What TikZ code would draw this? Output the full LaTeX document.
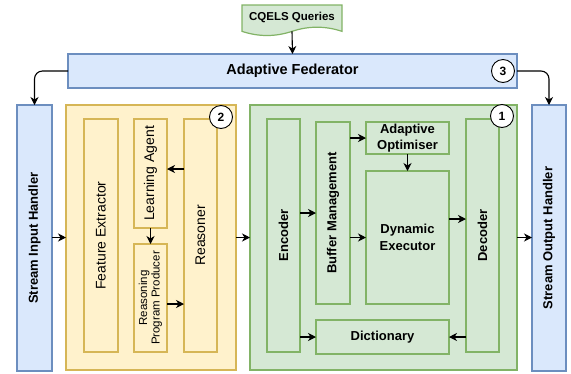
\documentclass[tikz,border=0pt]{standalone}
\usepackage{fontspec}
\setmainfont{Liberation Sans}
\usetikzlibrary{arrows.meta,calc}
\definecolor{bfill}{HTML}{DAE8FC}\definecolor{bline}{HTML}{6C8EBF}
\definecolor{yfill}{HTML}{FFF2CC}\definecolor{yline}{HTML}{D6B656}
\definecolor{gfill}{HTML}{D5E8D4}\definecolor{gline}{HTML}{82B366}
\begin{document}
\begin{tikzpicture}[x=1pt,y=-1pt,
  box/.style={draw,line width=1.2pt,inner sep=0pt,outer sep=0pt},
  bbox/.style={box,draw=bline,fill=bfill},
  ybox/.style={box,draw=yline,fill=yfill},
  gbox/.style={box,draw=gline,fill=gfill},
  sz/.style 2 args={minimum width=#1pt,minimum height=#2pt},
  gtxt/.style={font=\fontsize{13}{16}\selectfont\bfseries,align=center},
  ytxt/.style={font=\fontsize{14}{16}\selectfont,align=center},
  htxt/.style={font=\fontsize{13}{15}\selectfont\bfseries,align=center},
  badge/.style={circle,draw=black,fill=white,line width=0.9pt,minimum size=23pt,inner sep=0pt,font=\fontsize{12}{14}\selectfont\bfseries},
  arr/.style={line width=1.1pt,-{Stealth[length=8pt,width=8pt,inset=2.5pt]}},
]
\useasboundingbox (0,0) rectangle (571,373);
% CQELS document
\path[draw=gline,fill=gfill,line width=1.2pt] (242,5) -- (342,5) -- (342,31.35)
  .. controls (325.3,25.8) and (308.7,25.8) .. (292,31.35)
  .. controls (275.3,36.9) and (258.7,36.9) .. (242,31.35) -- cycle;
\node[font=\fontsize{11.5}{14}\selectfont\bfseries] (cq) at (292,17) {CQELS Queries};
\coordinate (cqb) at (292,31.35);
% federator
\node[bbox,sz={449}{34}] (fed) at (292.5,71) {};
\node[font=\fontsize{14.5}{17}\selectfont\bfseries] at (fed) {Adaptive Federator};
\node[badge] (b3) at (503,71) {3};
% handlers
\node[bbox,sz={35}{266}] (sin) at (34.5,238) {};
\node[htxt,rotate=90] at (sin) {Stream Input Handler};
\node[bbox,sz={34}{266}] (sout) at (549,238) {};
\node[htxt,rotate=90] at (sout) {Stream Output Handler};
% yellow block
\node[ybox,sz={170}{265}] (yel) at (151,237.5) {};
\node[ybox,sz={34}{233}] (fe) at (101,235.5) {};
\node[ytxt,rotate=90] at (fe) {Feature Extractor};
\node[ybox,sz={33}{109}] (la) at (150.5,173.5) {};
\node[ytxt,rotate=90] at (la) {Learning Agent};
\node[ybox,sz={33}{108}] (rpp) at (150.5,298) {};
\node[font=\fontsize{11.5}{12.5}\selectfont,align=center,rotate=90] at (rpp) {Reasoning\\Program Producer};
\node[ybox,sz={33}{233}] (rs) at (200.5,235.5) {};
\node[ytxt,rotate=90] at (rs) {Reasoner};
\node[badge] (b2) at (221,117) {2};
% green block
\node[gbox,sz={267}{265}] (grn) at (383.5,237.5) {};
\node[gbox,sz={33}{233}] (enc) at (283.5,235.5) {};
\node[gtxt,rotate=90] at (enc) {Encoder};
\node[gbox,sz={34}{182}] (bm) at (333,213) {};
\node[gtxt,rotate=90] at (bm) {Buffer Management};
\node[gbox,sz={83}{32}] (ao) at (407.5,138) {};
\node[gtxt] at (ao) {Adaptive\\Optimiser};
\node[gbox,sz={83}{133}] (de) at (407.5,237.5) {};
\node[gtxt,font=\fontsize{13}{17}\selectfont\bfseries] at (de) {Dynamic\\Executor};
\node[gbox,sz={33}{233}] (dec) at (482.5,235.5) {};
\node[gtxt,rotate=90] at (dec) {Decoder};
\node[gbox,sz={133}{34}] (dic) at (382.5,337) {};
\node[gtxt] at (dic) {Dictionary};
\node[badge] (b1) at (502,116) {1};
% connectors
\draw[arr] (cqb) -- (fed.north);
\draw[arr,rounded corners=8pt] (fed.west) -| (sin.north);
\draw[arr,rounded corners=8pt] (fed.east) -| (sout.north);
\draw[arr] (sin.east |- yel.west) -- (yel.west);
\draw[arr] (yel.east) -- (grn.west);
\draw[arr] (grn.east) -- (sout.west |- grn.east);
\draw[arr] (rs.west |- 0,169) -- (la.east |- 0,169);
\draw[arr] (la.south) -- (rpp.north);
\draw[arr] (rpp.east |- 0,304) -- (rs.west |- 0,304);
\draw[arr] (enc.east |- bm.west) -- (bm.west);
\draw[arr] (bm.east |- ao.west) -- (ao.west);
\draw[arr] (bm.east |- de.west) -- (de.west);
\draw[arr] (ao.south) -- (de.north);
\draw[arr] (de.east |- 0,219) -- (dec.west |- 0,219);
\draw[arr] (enc.east |- dic.west) -- (dic.west);
\draw[arr] (dec.west |- dic.east) -- (dic.east);
\end{tikzpicture}
\end{document}
